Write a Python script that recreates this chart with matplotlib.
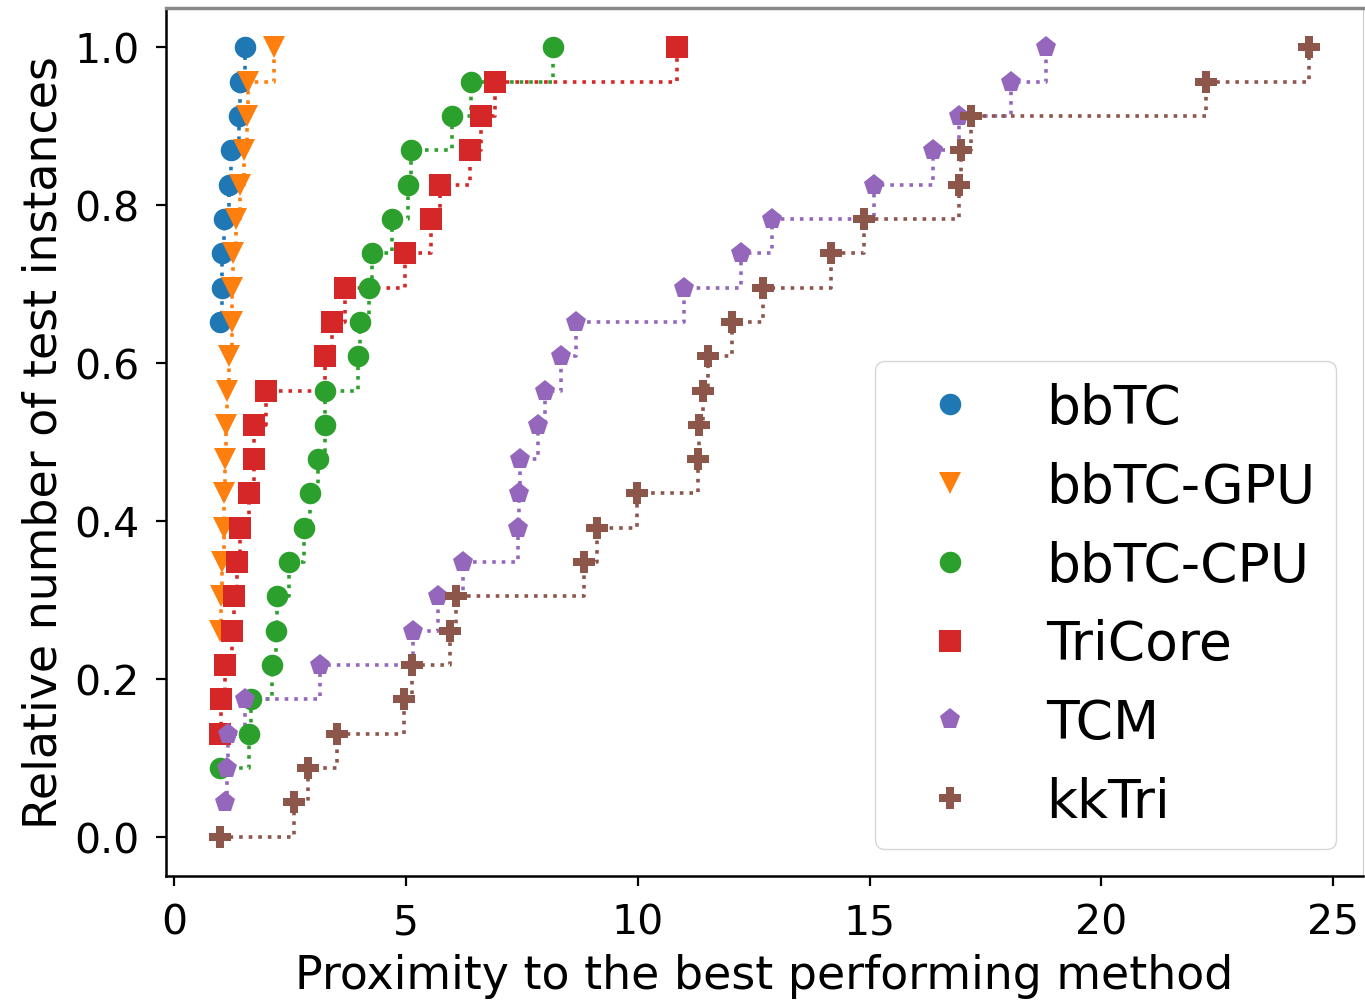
import matplotlib.pyplot as plt

# relative number of test instances (24 instances -> k/23)
rel_instances = [0/23, 1/23, 2/23, 3/23, 4/23, 5/23, 6/23, 7/23, 8/23, 9/23, 10/23, 11/23,
                 12/23, 13/23, 14/23, 15/23, 16/23, 17/23, 18/23, 19/23, 20/23, 21/23, 22/23, 23/23]

# sorted performance ratios per method;
# each curve starts at the rank given in first_rank
bbtc = [1.0, 1.04, 1.04, 1.08, 1.18, 1.22, 1.40, 1.43, 1.54]
bbtc_gpu = [1.0, 1.02, 1.04, 1.08, 1.08, 1.11,
            1.13, 1.15, 1.18, 1.25, 1.25, 1.27, 1.33, 1.43, 1.51, 1.57, 1.60, 2.15]
bbtc_cpu = [1.0, 1.61, 1.65, 2.11, 2.19, 2.21, 2.48, 2.81, 2.94, 3.10,
            3.25, 3.25, 3.96, 4.01, 4.21, 4.27, 4.71, 5.05, 5.11, 6.00, 6.41, 8.17]
tricore = [1.0, 1.01, 1.10, 1.24, 1.29, 1.36, 1.43, 1.61, 1.72,
           1.72, 1.98, 3.25, 3.40, 3.68, 4.98, 5.54, 5.73, 6.39, 6.62, 6.92, 10.84]
tcm = [1.11, 1.14, 1.16, 1.52, 3.15, 5.16, 5.69, 6.24, 7.42, 7.43, 7.47,
       7.85, 8.01, 8.34, 8.66, 11.00, 12.23, 12.90, 15.09, 16.36, 16.92, 18.05, 18.80]
kktri = [1.0, 2.58, 2.90, 3.51, 4.95, 5.14, 5.95, 6.09, 8.84, 9.12, 9.98, 11.30,
         11.33, 11.40, 11.52, 12.04, 12.70, 14.16, 14.88, 16.92, 16.97, 17.18, 22.25, 24.47]

methods = ['bbTC', 'bbTC-GPU', 'bbTC-CPU', 'TriCore', 'TCM', 'kkTri']
ratios = [bbtc, bbtc_gpu, bbtc_cpu, tricore, tcm, kktri]
first_rank = [15, 6, 2, 3, 1, 0]
markers = ['o', 'v', 'o', 's', 'p', 'P']
colors = ['#1f77b4', '#ff7f0e', '#2ca02c', '#d62728', '#9467bd', '#8c564b']

fig = plt.figure(figsize=(13.65, 10.04), dpi=100)
ax = fig.add_axes([0.1216, 0.1265, 0.877, 0.8645])

for name, r, k, m, c in zip(methods, ratios, first_rank, markers, colors):
    y = rel_instances[k:]
    ax.step(r, y, where='post', linestyle=':', color=c, linewidth=2.6, zorder=2)
    ax.plot(r, y, marker=m, markersize=15.5, linestyle='none', color=c,
            markeredgewidth=0, label=name, zorder=3)

ax.set_xlabel('Proximity to the best performing method', fontsize=33, labelpad=8)
ax.set_ylabel('Relative number of test instances', fontsize=33, labelpad=6)
ax.set_xticks([0, 5, 10, 15, 20, 25])
ax.set_yticks([0.0, 0.2, 0.4, 0.6, 0.8, 1.0])
ax.tick_params(axis='both', labelsize=29.5, length=7, width=1.6, pad=12)

for side in ['left', 'bottom']:
    ax.spines[side].set_linewidth(1.8)
ax.spines['top'].set_color('#888888')
ax.spines['top'].set_linewidth(2.5)
ax.spines['right'].set_color('#cccccc')

ax.legend(loc='lower right', fontsize=38.5, labelspacing=0.5)

fig.savefig('out.png', dpi=100)
